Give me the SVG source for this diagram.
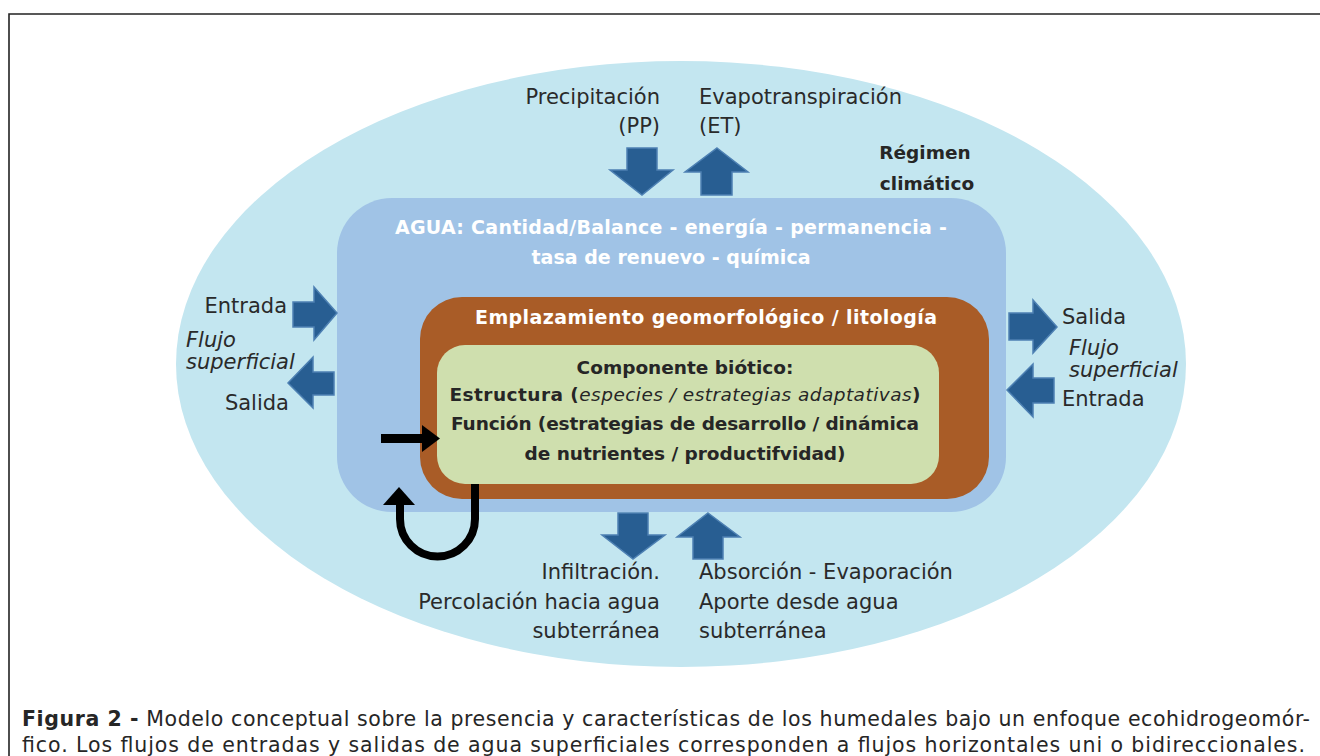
<svg xmlns="http://www.w3.org/2000/svg" width="1320" height="756" viewBox="0 0 1320 756">
<style>
.lbl{font-family:"DejaVu Sans",sans-serif;font-size:21px;fill:#2a2a2a}
.it{font-style:italic}
.bw{font-family:"DejaVu Sans",sans-serif;font-size:19px;font-weight:bold;fill:#ffffff}
.bd{font-family:"DejaVu Sans",sans-serif;font-size:18.5px;font-weight:bold;fill:#262626}
.cap{font-family:"DejaVu Sans",sans-serif;font-size:20.5px;fill:#262626}
.blk{fill:#285e92;stroke:#4d80b3;stroke-width:1.5}
</style>
<rect x="0" y="0" width="1320" height="756" fill="#ffffff"/>
<path d="M1320,14 H9 V756" fill="none" stroke="#222" stroke-width="1.6"/>
<g id="regimen-climatico">
<ellipse cx="681" cy="364" rx="505" ry="303" fill="#c3e6f0"/>
<text class="bd" x="925" y="159" text-anchor="middle">Régimen</text>
<text class="bd" x="927" y="190" text-anchor="middle">climático</text>
</g>
<g id="agua">
<rect x="337" y="198" width="669" height="314" rx="55" fill="#a0c3e6"/>
<text class="bw" x="671" y="234" text-anchor="middle" textLength="552">AGUA: Cantidad/Balance - energía - permanencia -</text>
<text class="bw" x="671" y="264" text-anchor="middle" textLength="279">tasa de renuevo - química</text>
</g>
<g id="emplazamiento">
<rect x="420" y="297" width="569" height="202" rx="42" fill="#a95c27"/>
<text class="bw" x="706" y="324" text-anchor="middle" textLength="462">Emplazamiento geomorfológico / litología</text>
</g>
<g id="biotico">
<rect x="437" y="345" width="502" height="139" rx="28" fill="#cfdfae"/>
<text class="bd" x="685" y="374" text-anchor="middle">Componente biótico:</text>
<text class="bd" x="685" y="401" text-anchor="middle" textLength="471">Estructura (<tspan font-weight="normal" font-style="italic">especies / estrategias adaptativas</tspan>)</text>
<text class="bd" x="685" y="430" text-anchor="middle" textLength="468">Función (estrategias de desarrollo / dinámica</text>
<text class="bd" x="685" y="460" text-anchor="middle" textLength="321">de nutrientes / productifvidad)</text>
</g>
<g id="connectors">
<polygon class="blk" points="627,148 657,148 657,170 673,170 642,195 610,170 627,170"/>
<polygon class="blk" points="717,148 748,172 732,172 732,195 701,195 701,172 685,172"/>
<polygon class="blk" points="618,513 648,513 648,535 665,535 633,559 602,535 618,535"/>
<polygon class="blk" points="708,513 740,537 723,537 723,559 693,559 693,537 677,537"/>
<polygon class="blk" points="293,302 314,302 314,287 337,313 314,340 314,327 293,327"/>
<polygon class="blk" points="334,372 313,372 313,357 288,383 313,408 313,395 334,395"/>
<polygon class="blk" points="1009,313 1033,313 1033,300 1057,327 1033,353 1033,340 1009,340"/>
<polygon class="blk" points="1054,378 1033,378 1033,364 1007,390 1033,417 1033,403 1054,403"/>
<path d="M381,438.5 H424" stroke="#000" stroke-width="9" fill="none"/>
<polygon points="422,425 440,438.5 422,452" fill="#000"/>
<path d="M475,484 V519 A37.5,37.5 0 0 1 400,519 V504" stroke="#000" stroke-width="8" fill="none"/>
<polygon points="383,505 415,505 399,487" fill="#000"/>
</g>
<g id="labels">
<text class="lbl" x="660" y="104" text-anchor="end">Precipitación</text>
<text class="lbl" x="660" y="133" text-anchor="end">(PP)</text>
<text class="lbl" x="699" y="104">Evapotranspiración</text>
<text class="lbl" x="699" y="133">(ET)</text>
<text class="lbl" x="287" y="313" text-anchor="end">Entrada</text>
<text class="lbl it" x="186" y="347">Flujo</text>
<text class="lbl it" x="186" y="369">superficial</text>
<text class="lbl" x="289" y="410" text-anchor="end">Salida</text>
<text class="lbl" x="1062" y="324">Salida</text>
<text class="lbl it" x="1069" y="355">Flujo</text>
<text class="lbl it" x="1069" y="377">superficial</text>
<text class="lbl" x="1062" y="406">Entrada</text>
<text class="lbl" x="660" y="579" text-anchor="end">Infiltración.</text>
<text class="lbl" x="660" y="609" text-anchor="end">Percolación hacia agua</text>
<text class="lbl" x="660" y="638" text-anchor="end">subterránea</text>
<text class="lbl" x="699" y="579">Absorción - Evaporación</text>
<text class="lbl" x="699" y="609">Aporte desde agua</text>
<text class="lbl" x="699" y="638">subterránea</text>
</g>
<g id="caption">
<text class="cap" x="22" y="726" textLength="1288"><tspan font-weight="bold">Figura 2 -</tspan> Modelo conceptual sobre la presencia y características de los humedales bajo un enfoque ecohidrogeomór-</text>
<text class="cap" x="22" y="752" textLength="1283">fico. Los flujos de entradas y salidas de agua superficiales corresponden a flujos horizontales uni o bidireccionales.</text>
</g>
</svg>
